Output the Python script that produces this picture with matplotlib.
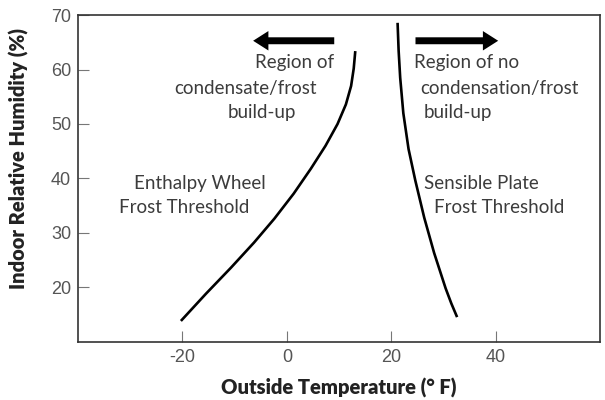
import matplotlib
matplotlib.use('Agg')
import matplotlib.pyplot as plt

plt.rcParams['axes.unicode_minus'] = False

# Enthalpy wheel frost threshold (outside temp F, indoor RH %)
wheel_temp = [-20.3, -15.5, -10.7, -6.3, -2.4, 1.3, 4.6, 7.4, 9.7, 11.3, 12.3, 12.8, 13.1]
wheel_rh = [13.8, 18.8, 23.6, 28.2, 32.6, 37.2, 41.8, 46.0, 50.0, 53.6, 57.0, 60.2, 63.4]

# Sensible plate frost threshold
plate_temp = [32.6, 31.5, 30.4, 28.2, 26.3, 24.6, 23.3, 22.3, 21.7, 21.4, 21.2]
plate_rh = [14.5, 17.0, 19.8, 26.3, 32.8, 39.6, 45.4, 52.0, 58.5, 63.5, 68.6]

x_ticks = [-20, 0, 20, 40]
y_ticks = [20, 30, 40, 50, 60, 70]

TXT = '#3c3c3c'
TICK = '#555555'
ANN_FONT = ['Lato', 'DejaVu Sans']

fig = plt.figure(figsize=(6.05, 4.0), dpi=100)
ax = fig.add_axes([0.129, 0.146, 0.863, 0.816])

ax.plot(wheel_temp, wheel_rh, color='black', lw=1.9, solid_capstyle='butt')
ax.plot(plate_temp, plate_rh, color='black', lw=1.9, solid_capstyle='butt')

ax.set_xlim(-40, 60)
ax.set_ylim(10, 70)
ax.set_xticks(x_ticks)
ax.set_yticks(y_ticks)
ax.tick_params(direction='in', length=8, width=0.8, color='#777777',
               labelcolor=TICK, labelsize=13, pad=5)
for lab in ax.get_xticklabels() + ax.get_yticklabels():
    lab.set_family('Liberation Sans')
for s in ax.spines.values():
    s.set_color('#333333')
    s.set_linewidth(1.2)

ax.set_xlabel('Outside Temperature (° F)', family=ANN_FONT, fontweight='heavy',
              fontsize=14.5, color='#222222', labelpad=9)
ax.set_ylabel('Indoor Relative Humidity (%)', family=ANN_FONT, fontweight='heavy',
              fontsize=14.5, color='#222222')
ax.yaxis.set_label_coords(-0.094, 0.56)

# arrows
arrow = dict(arrowstyle='simple,head_width=1.4,head_length=1.1,tail_width=0.5',
             mutation_scale=10, color='black', lw=0)
ax.annotate('', xy=(-7, 65.3), xytext=(9.6, 65.3), arrowprops=arrow)
ax.annotate('', xy=(41, 65.3), xytext=(24.1, 65.3), arrowprops=arrow)

def note(x, y, s, ha='left'):
    ax.text(x, y, s, ha=ha, va='center', fontsize=13.5, color=TXT, family=ANN_FONT)

note(9.0, 61.3, 'Region of', ha='right')
note(-21.6, 56.6, 'condensate/frost')
note(-11.3, 52.2, 'build-up')
note(24.3, 61.3, 'Region of no')
note(25.5, 56.6, 'condensation/frost')
note(26.2, 52.2, 'build-up')
note(-29.3, 39.0, 'Enthalpy Wheel')
note(-32.2, 34.6, 'Frost Threshold')
note(26.2, 39.0, 'Sensible Plate')
note(28.2, 34.6, 'Frost Threshold')

fig.savefig('out.png', dpi=100)
